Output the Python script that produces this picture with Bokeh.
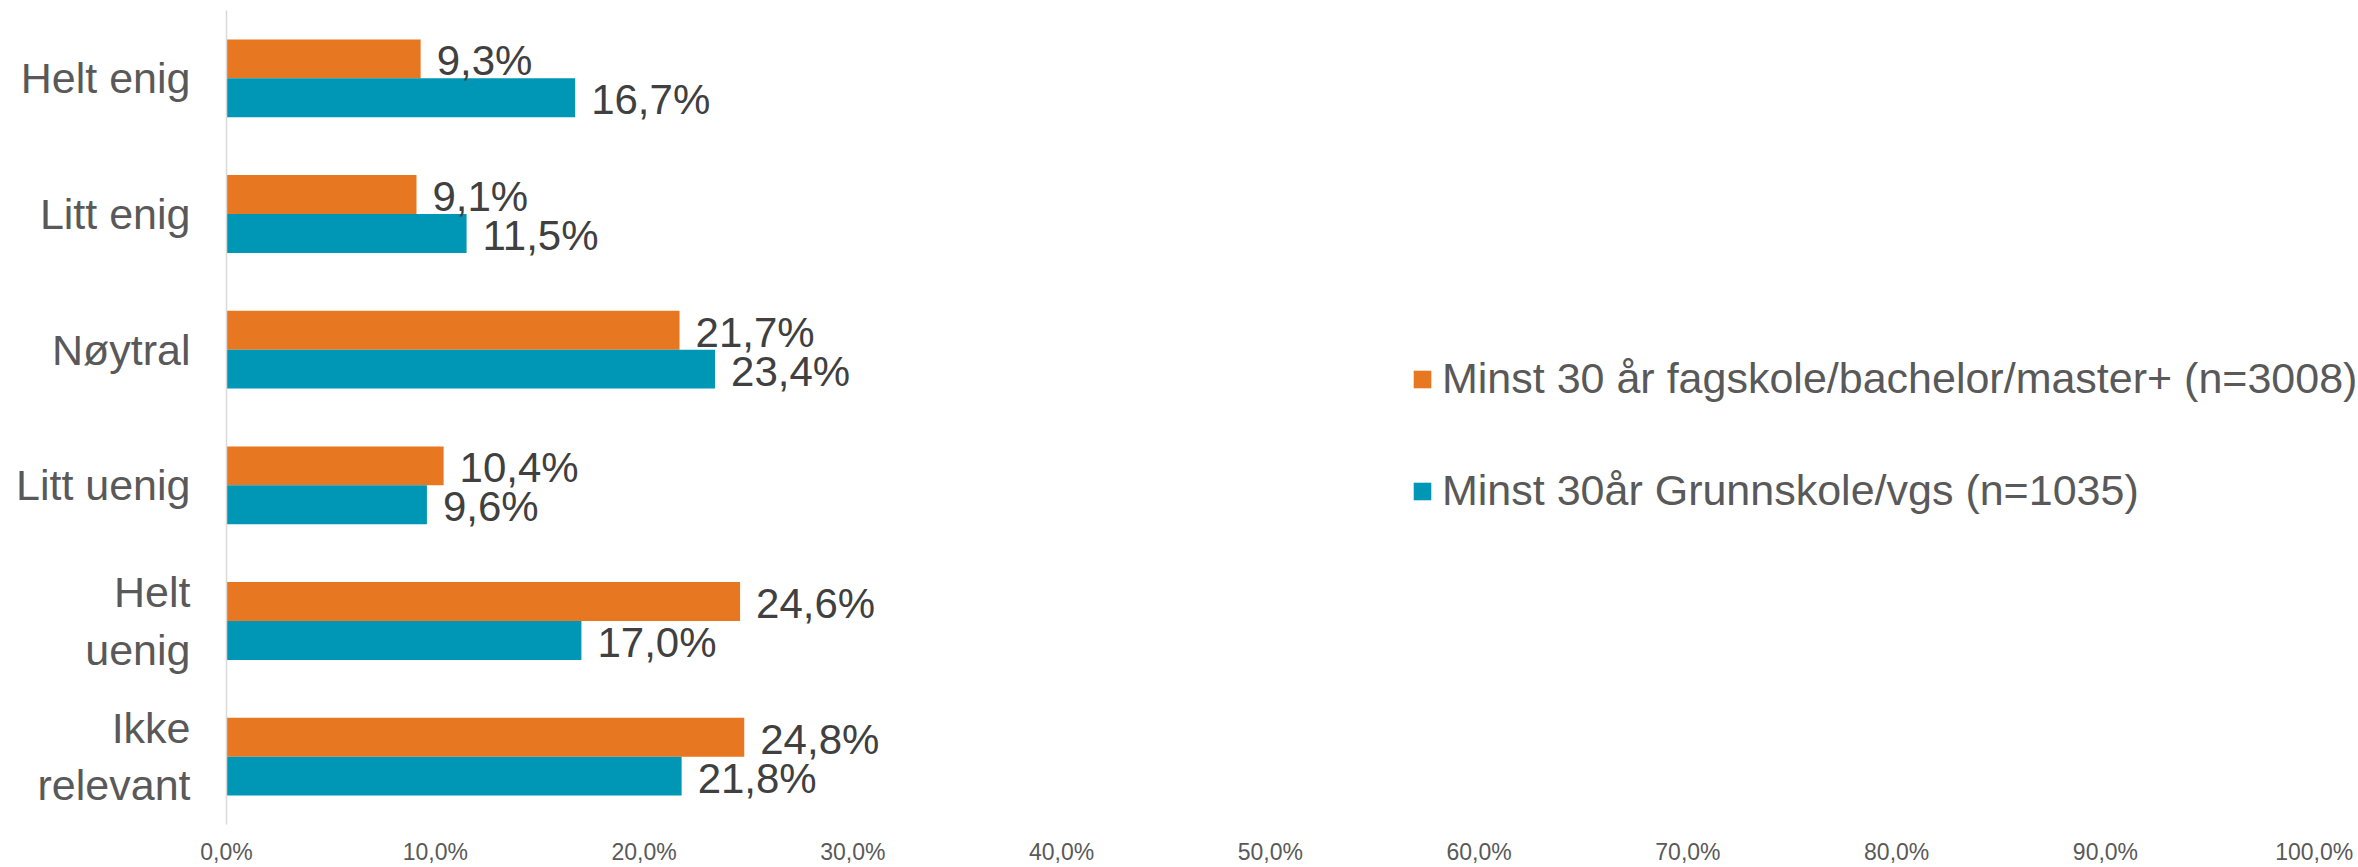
from bokeh.plotting import figure
from bokeh.models import Range1d, FactorRange, FixedTicker, ColumnDataSource, Legend, LegendItem
from bokeh.transform import dodge
from bokeh.core.properties import value
from bokeh.embed import file_html
from bokeh.resources import INLINE

categories = ["Helt enig", "Litt enig", "Nøytral", "Litt uenig", "Helt\nuenig", "Ikke\nrelevant"]
series_high = [9.3, 9.1, 21.7, 10.4, 24.6, 24.8]   # Minst 30 år fagskole/bachelor/master+
series_low = [16.7, 11.5, 23.4, 9.6, 17.0, 21.8]   # Minst 30år Grunnskole/vgs
name_high = "Minst 30 år fagskole/bachelor/master+ (n=3008)"
name_low = "Minst 30år Grunnskole/vgs (n=1035)"
tick_values = [0, 10, 20, 30, 40, 50, 60, 70, 80, 90, 100]
tick_labels = ["0,0%", "10,0%", "20,0%", "30,0%", "40,0%", "50,0%", "60,0%", "70,0%", "80,0%", "90,0%", "100,0%"]

ORANGE = "#E87722"
BLUE = "#0096B5"
FONT = "Liberation Sans"

def fmt(v):
    return f"{v:.1f}".replace(".", ",") + "%"

src = ColumnDataSource(dict(
    cat=categories,
    high=series_high,
    low=series_low,
    high_lbl=[fmt(v) for v in series_high],
    low_lbl=[fmt(v) for v in series_low],
))

# frame extends a little beyond 100% so the legend text is not clipped
p = figure(
    width=2358, height=867,
    x_range=Range1d(0, 102.12),
    y_range=FactorRange(factors=list(reversed(categories)), range_padding=0),
    output_backend="svg", toolbar_location=None,
    min_border_left=226, min_border_right=0, min_border_top=10, min_border_bottom=0,
)
p.outline_line_color = None
p.xgrid.grid_line_color = None
p.ygrid.grid_line_color = None
p.background_fill_color = "white"
p.border_fill_color = "white"

bh = 0.287
r_high = p.hbar(y=dodge("cat", bh / 2, range=p.y_range), right="high", left=0, height=bh,
                source=src, fill_color=ORANGE, line_color=None)
r_low = p.hbar(y=dodge("cat", -bh / 2, range=p.y_range), right="low", left=0, height=bh,
               source=src, fill_color=BLUE, line_color=None)

p.text(x="high", y=dodge("cat", bh / 2 - 0.015, range=p.y_range), text="high_lbl", source=src,
       x_offset=16, text_font=value(FONT), text_font_size="42px", text_color="#404040",
       text_baseline="middle", text_align="left")
p.text(x="low", y=dodge("cat", -bh / 2 - 0.015, range=p.y_range), text="low_lbl", source=src,
       x_offset=16, text_font=value(FONT), text_font_size="42px", text_color="#404040",
       text_baseline="middle", text_align="left")

# x axis
xa = p.xaxis[0]
xa.ticker = FixedTicker(ticks=tick_values)
xa.major_label_overrides = {t: l for t, l in zip(tick_values, tick_labels)}
xa.axis_line_color = None
xa.major_tick_line_color = None
xa.minor_tick_line_color = None
xa.major_tick_out = 0
xa.major_tick_in = 0
xa.minor_tick_out = 0
xa.major_label_text_font = FONT
xa.major_label_text_font_size = "23px"
xa.major_label_text_color = "#595959"
xa.major_label_standoff = 14

# y axis
ya = p.yaxis[0]
ya.axis_line_color = "#D9D9D9"
ya.axis_line_width = 1.5
ya.major_tick_line_color = None
ya.minor_tick_line_color = None
ya.major_tick_out = 0
ya.major_tick_in = 0
ya.minor_tick_out = 0
ya.major_label_text_font = FONT
ya.major_label_text_font_size = "43px"
ya.major_label_text_color = "#595959"
ya.major_label_standoff = 36

legend = Legend(
    items=[LegendItem(label=name_high, renderers=[r_high]),
           LegendItem(label=name_low, renderers=[r_low])],
    location=(1185, 309),
    orientation="vertical",
    label_text_font=FONT, label_text_font_size="43px", label_text_color="#595959",
    glyph_width=22, glyph_height=22, label_standoff=9, spacing=63,
    padding=0, margin=0, border_line_color=None, background_fill_alpha=0,
)
p.add_layout(legend, "center")

open("out.html", "w").write(file_html(p, INLINE))
